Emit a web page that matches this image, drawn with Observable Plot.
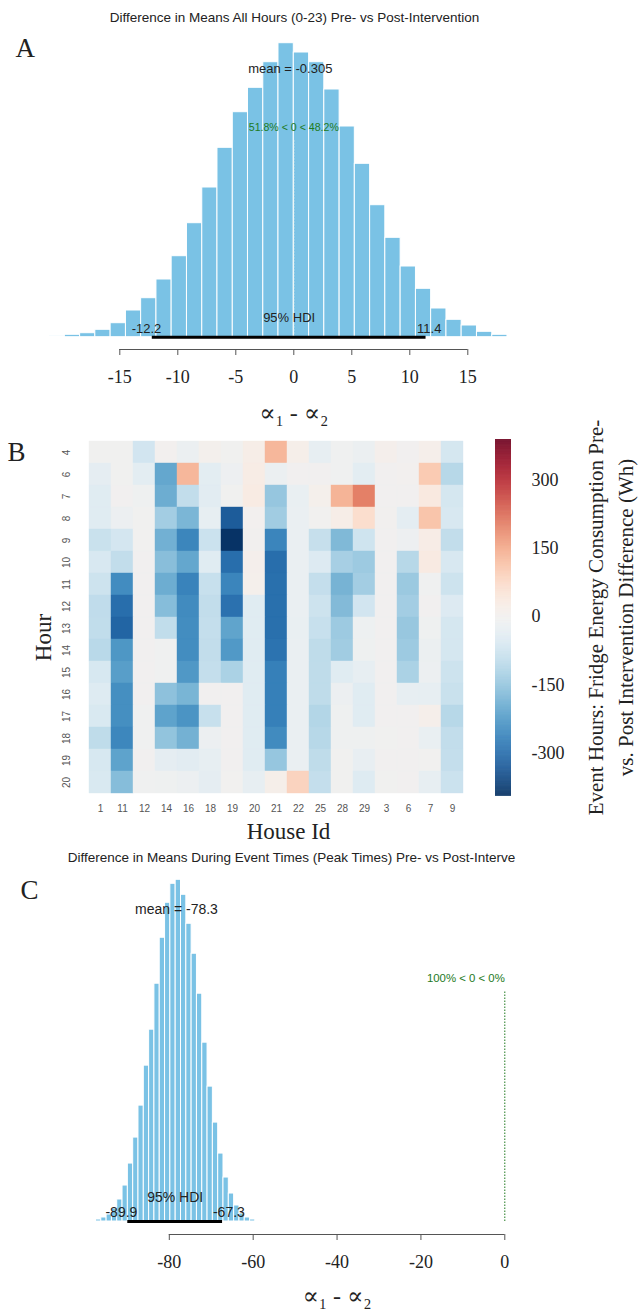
<!DOCTYPE html>
<html>
<head>
<meta charset="utf-8">
<script src="https://cdn.jsdelivr.net/npm/d3@7"></script>
<script src="https://cdn.jsdelivr.net/npm/@observablehq/plot@0.6"></script>
<style>
html, body { margin: 0; padding: 0; background: #fff; }
#wrap { position: relative; width: 638px; height: 1313px; overflow: hidden; }
#wrap svg { position: absolute; left: 0; top: 0; }
</style>
</head>
<body>
<div id="wrap"></div>
<script>
// ---------------- Panel A data ----------------
const aTitle = "Difference in Means All Hours (0-23) Pre- vs Post-Intervention";
const aEdges = [-21.06, -19.74, -18.42, -17.11, -15.79, -14.47, -13.16, -11.84, -10.53, -9.21,
                -7.89, -6.58, -5.26, -3.95, -2.63, -1.32, 0.00, 1.32, 2.63, 3.95,
                5.26, 6.58, 7.89, 9.21, 10.53, 11.84, 13.16, 14.47, 15.79, 17.11, 18.42];
const aFreq = [10, 24, 40, 74, 140, 267, 390, 577, 810, 1140,
               1497, 1894, 2250, 2494, 2750, 2940, 2847, 2750, 2477, 2107,
               1734, 1320, 994, 707, 484, 287, 174, 117, 54, 24];
const aMean = -0.305;
const aHdi = [-12.2, 11.4];
const aCompare = "51.8% < 0 < 48.2%";
const aTicks = [-15, -10, -5, 0, 5, 10, 15];

// ---------------- Panel B data ----------------
const houses = ["1", "11", "12", "14", "16", "18", "19", "20", "21", "22", "25", "28", "29", "3", "6", "7", "9"];
const hours = ["4", "6", "7", "8", "9", "10", "11", "12", "13", "14", "15", "16", "17", "18", "19", "20"];
const diffWh = [
  [-5, -5, -70, 0, -20, 5, -5, 20, 130, 15, -30, -8, -20, 10, -3, 12, -65],
  [-35, -5, -40, -205, 130, -40, -15, 25, -20, -3, -3, -10, -40, -3, 0, 100, -110],
  [-45, -3, -12, -195, -95, -42, -6, 28, -150, -25, 8, 135, 200, -3, -3, 35, -65],
  [-45, -18, -5, -135, -180, -30, -330, 0, -138, -22, -4, 20, 65, -2, -38, 110, -60],
  [-85, -68, -4, -190, -260, -82, -390, -2, -262, -22, -90, -175, -75, -3, -15, 22, -95],
  [-60, -95, -3, -165, -205, -45, -300, 10, -300, -22, -52, -130, -142, -3, -110, 30, -60],
  [-78, -250, -3, -195, -265, -88, -262, 8, -298, -22, -92, -185, -135, -3, -145, -10, -78],
  [-98, -300, -3, -168, -252, -95, -295, -45, -298, -22, -78, -172, -70, -3, -135, -3, -52],
  [-96, -315, -3, -96, -248, -92, -210, -45, -298, -25, -88, -142, -14, -3, -148, -12, -65],
  [-108, -232, -3, -10, -248, -95, -228, -45, -292, -22, -100, -138, -12, -3, -142, -20, -65],
  [-62, -220, -3, -10, -230, -92, -125, -45, -270, -22, -100, -45, -30, -3, -125, -18, -78],
  [-50, -245, -3, -160, -182, -3, -3, -45, -270, -22, -100, -18, -45, -3, -30, -30, -85],
  [-58, -245, -8, -212, -236, -88, -3, -45, -270, -22, -115, -12, -45, -3, -3, 12, -110],
  [-100, -258, -8, -155, -188, -18, -3, -45, -252, -22, -110, -12, -12, -6, -3, -25, -95],
  [-62, -212, -3, -35, -42, -30, -3, -45, -150, -22, -100, -6, -28, -3, -3, -4, -92],
  [-58, -168, -10, -12, -18, -35, -4, -30, 15, 85, -92, -6, -50, -5, -3, -30, -82]
];
const colorDomain = [-395, 389];
const cbTicks = [300, 150, 0, -150, -300];
const cbLabel = "Event Hours: Fridge Energy Consumption Pre-\nvs. Post Intervention Difference (Wh)";

// ---------------- Panel C data ----------------
const cTitle = "Difference in Means During Event Times (Peak Times) Pre- vs Post-Interve";
const cEdges = [-98.75, -97.48, -96.22, -94.95, -93.68, -92.42, -91.15, -89.88, -88.61, -87.35,
                -86.08, -84.81, -83.55, -82.28, -81.01, -79.75, -78.48, -77.21, -75.94, -74.68,
                -73.41, -72.14, -70.88, -69.61, -68.34, -67.08, -65.81, -64.54, -63.27, -62.01,
                -60.74, -59.47, -58.21];
const cFreq = [10, 20, 40, 70, 130, 220, 360, 580, 840, 1160,
               1560, 1920, 2380, 2840, 3190, 3380, 3420, 3270, 2980, 2680,
               2280, 1790, 1350, 990, 680, 440, 280, 160, 80, 40, 20, 10];
const cMean = -78.3;
const cHdi = [-89.9, -67.3];
const cCompare = "100% < 0 < 0%";
const cTicks = [-80, -60, -40, -20, 0];

const xLabel = "∝₁ - ∝₂";

// ---------------- styling ----------------
const W = 638, H = 1313;
const serif = "'Liberation Serif', 'DejaVu Serif', serif";
const sans = "'Liberation Sans', Arial, sans-serif";
const barFill = "#7ac2e5";
const green = "#1e7a1e";
const ink = "#222";
const baseStyle = {background: "transparent", overflow: "visible", fontFamily: serif, fontSize: "18px", color: ink};
const hyphen = d => String(d);
const placed = {frameAnchor: "top-left", textAnchor: "middle", lineAnchor: "middle"};

const wrap = document.getElementById("wrap");

function histPanel(o) {
  const bins = o.freq.map((n, i) => ({x1: o.edges[i], x2: o.edges[i + 1], n}));
  const max = d3.max(o.freq);
  const mid = (o.ticks[0] + o.ticks[o.ticks.length - 1]) / 2;
  return Plot.plot({
    width: W, height: H,
    marginTop: 0, marginLeft: 0, marginRight: 0, marginBottom: H - o.axisY,
    style: baseStyle,
    x: {domain: [o.ticks[0], o.ticks[o.ticks.length - 1]], range: o.xRange},
    y: {domain: [0, max], range: [o.base, o.peak], axis: null},
    marks: [
      Plot.rect(bins, {x1: "x1", x2: "x2", y1: 0, y2: "n", fill: barFill, stroke: "white", strokeWidth: 1}),
      Plot.ruleX([0], {y1: 0, y2: 0.672 * max, stroke: o.ruleColor, strokeDasharray: "1.5,1.5", strokeWidth: 1}),
      Plot.text([o.compare], {x: 0, y: 0.7 * max, dy: -4, textAnchor: o.compareAnchor, fill: green, fontFamily: sans, fontSize: o.compareSize}),
      Plot.text(["mean = " + o.mean], {x: o.mean, y: 0.9 * max, dy: -4, fill: ink, fontFamily: sans, fontSize: o.small}),
      Plot.ruleY([0], {x1: o.hdi[0], x2: o.hdi[1], stroke: "black", strokeWidth: 3}),
      Plot.text([o.hdi[0]], {x: d => d, y: 0, text: hyphen, textAnchor: "end", dx: o.hdiDx, dy: o.hdiDy, fill: ink, fontFamily: sans, fontSize: o.small}),
      Plot.text([o.hdi[1]], {x: d => d, y: 0, text: hyphen, textAnchor: "start", dx: -o.hdiDx, dy: o.hdiDy, fill: ink, fontFamily: sans, fontSize: o.small}),
      Plot.text(["95% HDI"], {x: (o.hdi[0] + o.hdi[1]) / 2, y: 0, dy: o.hdiTextDy, fill: ink, fontFamily: sans, fontSize: o.small}),
      Plot.ruleY([0], {x1: o.ticks[0], x2: o.ticks[o.ticks.length - 1], dy: o.axisY - o.base, stroke: "#555"}),
      Plot.axisX({ticks: o.ticks, tickSize: 6, tickPadding: 14.5, tickFormat: hyphen, stroke: "#555", fontSize: 18, fontFamily: serif, fill: ink}),
      Plot.text([xLabel], {x: mid, y: 0, dy: o.labelY - o.base, fontFamily: serif, fontSize: 24, fill: ink}),
      Plot.text([o.title], {...placed, dx: o.titleX, dy: o.titleY, fontFamily: sans, fontSize: 13.5, fill: ink}),
      Plot.text([o.letter], {...placed, textAnchor: "start", dx: o.letterX, dy: o.letterY, fontFamily: serif, fontSize: 27, fill: ink})
    ]
  });
}

// Panel A
wrap.appendChild(histPanel({
  edges: aEdges, freq: aFreq, mean: aMean, hdi: aHdi, compare: aCompare, ticks: aTicks,
  title: aTitle, letter: "A",
  xRange: [119.3, 467.3], base: 336.7, peak: 42.7, axisY: 349, labelY: 413,
  ruleColor: "#eef7ee", compareAnchor: "middle", compareSize: 10.6, small: 13,
  hdiDx: 9, hdiDy: -8.7, hdiTextDy: -19.4,
  titleX: 294, titleY: 17, letterX: 15, letterY: 48
}));

// Panel B heatmap
const cells = hours.flatMap((h, i) => houses.map((c, j) => ({house: c, hour: h, v: diffWh[i][j]})));
const colorOpts = {type: "diverging", scheme: "RdBu", reverse: true, domain: colorDomain, pivot: 0};
const hmLeft = 81, hmRight = 470, hmTop = 439, hmBottom = 795.8;
wrap.appendChild(Plot.plot({
  width: W, height: H,
  marginLeft: hmLeft, marginRight: W - hmRight, marginTop: hmTop, marginBottom: H - hmBottom,
  style: baseStyle,
  x: {type: "band", domain: houses, padding: 0, axis: null},
  y: {type: "band", domain: hours, padding: 0, axis: null},
  color: colorOpts,
  marks: [
    Plot.cell(cells, {x: "house", y: "hour", fill: "v", stroke: "v", strokeWidth: 0.4, inset: 0}),
    Plot.text(houses, {x: d => d, frameAnchor: "bottom", lineAnchor: "middle", dy: 12.5, fontFamily: sans, fontSize: 10, fill: "#555"}),
    Plot.text(hours, {y: d => d, frameAnchor: "left", textAnchor: "middle", lineAnchor: "middle", dx: -14.5, rotate: -90, fontFamily: sans, fontSize: 10, fill: "#555"}),
    Plot.text(["Hour"], {...placed, dx: 43 - hmLeft, dy: 637 - hmTop, rotate: -90, fontFamily: serif, fontSize: 23, fill: ink}),
    Plot.text(["House Id"], {...placed, dx: 288 - hmLeft, dy: 831 - hmTop, fontFamily: serif, fontSize: 23, fill: ink}),
    Plot.text(["B"], {...placed, textAnchor: "start", dx: 7 - hmLeft, dy: 452 - hmTop, fontFamily: serif, fontSize: 27, fill: ink})
  ]
}));

// Colorbar
const cbStops = d3.range(colorDomain[0], colorDomain[1], 1);
wrap.appendChild(Plot.plot({
  width: W, height: H, margin: 0,
  style: baseStyle,
  x: {domain: [0, 1], range: [495, 511], axis: null},
  y: {domain: colorDomain, range: [hmBottom, hmTop], axis: null},
  color: colorOpts,
  marks: [
    Plot.rect(cbStops, {x1: 0, x2: 1, y1: d => d, y2: d => Math.min(d + 1.6, colorDomain[1]), fill: d => d}),
    Plot.text(cbTicks, {x: 1, y: d => d, dx: 20, textAnchor: "start", text: hyphen, fontFamily: serif, fontSize: 18, fill: ink}),
    Plot.text([cbLabel], {...placed, dx: 608, dy: 617, rotate: -90, lineHeight: 1.43, fontFamily: serif, fontSize: 21, fill: ink})
  ]
}));

// Panel C
wrap.appendChild(histPanel({
  edges: cEdges, freq: cFreq, mean: cMean, hdi: cHdi, compare: cCompare, ticks: cTicks,
  title: cTitle, letter: "C",
  xRange: [168.8, 504.3], base: 1221, peak: 879.3, axisY: 1234, labelY: 1296,
  ruleColor: green, compareAnchor: "end", compareSize: 11.4, small: 14,
  hdiDx: 9.6, hdiDy: -9.3, hdiTextDy: -24,
  titleX: 291, titleY: 857, letterX: 20, letterY: 890
}));
</script>
</body>
</html>
